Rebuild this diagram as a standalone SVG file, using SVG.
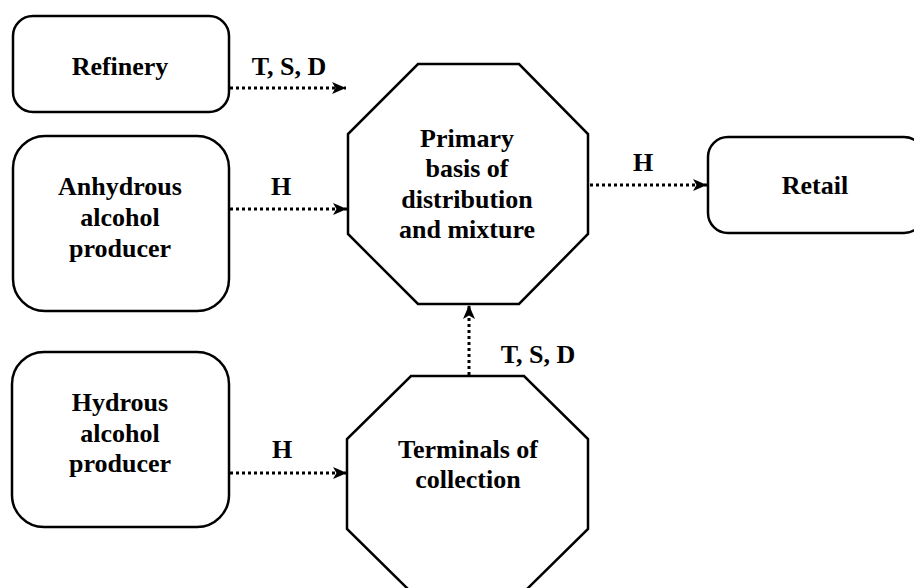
<svg xmlns="http://www.w3.org/2000/svg" width="914" height="588" viewBox="0 0 914 588">
  <style>
    .box { fill: #ffffff; stroke: #000000; stroke-width: 2.5; }
    .lbl { font-family: "Liberation Serif", "Times New Roman", serif; font-weight: bold; font-size: 26px; fill: #000000; text-anchor: middle; }
    .conn { fill: none; stroke: #000000; stroke-width: 3; stroke-dasharray: 3 3; }
  </style>
  <defs>
    <marker id="arrow" markerUnits="userSpaceOnUse" markerWidth="16" markerHeight="14" refX="14" refY="6" orient="auto" overflow="visible">
      <path d="M0,0 L14,6 L0,12 L3.5,6 Z" fill="#000000"/>
    </marker>
  </defs>
  <rect width="914" height="588" fill="#ffffff"/>

  <g id="connectors">
    <line class="conn" x1="230" y1="88" x2="346" y2="88" marker-end="url(#arrow)"/>
    <line class="conn" x1="230" y1="209" x2="347" y2="209" marker-end="url(#arrow)"/>
    <line class="conn" x1="590" y1="185" x2="707" y2="185" marker-end="url(#arrow)"/>
    <line class="conn" x1="230" y1="473" x2="347" y2="473" marker-end="url(#arrow)"/>
    <line class="conn" x1="469" y1="375" x2="469" y2="305" marker-end="url(#arrow)"/>
    <text class="lbl" x="289" y="75">T, S, D</text>
    <text class="lbl" x="281" y="195">H</text>
    <text class="lbl" x="643" y="171">H</text>
    <text class="lbl" x="282" y="458">H</text>
    <text class="lbl" x="538" y="363">T, S, D</text>
  </g>

  <g id="refinery">
    <rect class="box" x="13" y="16" width="216" height="96" rx="20" ry="20"/>
    <text class="lbl" x="120" y="75">Refinery</text>
  </g>

  <g id="anhydrous">
    <rect class="box" x="13" y="136" width="216" height="175" rx="32" ry="32"/>
    <text class="lbl" x="120" y="195">Anhydrous</text>
    <text class="lbl" x="120" y="226">alcohol</text>
    <text class="lbl" x="120" y="257">producer</text>
  </g>

  <g id="hydrous">
    <rect class="box" x="12" y="352" width="217" height="175" rx="32" ry="32"/>
    <text class="lbl" x="120" y="411">Hydrous</text>
    <text class="lbl" x="120" y="442">alcohol</text>
    <text class="lbl" x="120" y="472">producer</text>
  </g>

  <g id="primary">
    <polygon class="box" points="418,64 519,64 588,134 588,234 519,304 418,304 348,234 348,134"/>
    <text class="lbl" x="467" y="147">Primary</text>
    <text class="lbl" x="467" y="177">basis of</text>
    <text class="lbl" x="467" y="208">distribution</text>
    <text class="lbl" x="467" y="238">and mixture</text>
  </g>

  <g id="retail">
    <rect class="box" x="708" y="137" width="216" height="96" rx="20" ry="20"/>
    <text class="lbl" x="815" y="194">Retail</text>
  </g>

  <g id="terminals">
    <polygon class="box" points="411,376 524,376 588,439 588,529 524,592 411,592 347,529 347,439"/>
    <text class="lbl" x="468" y="458">Terminals of</text>
    <text class="lbl" x="468" y="488">collection</text>
  </g>
</svg>
